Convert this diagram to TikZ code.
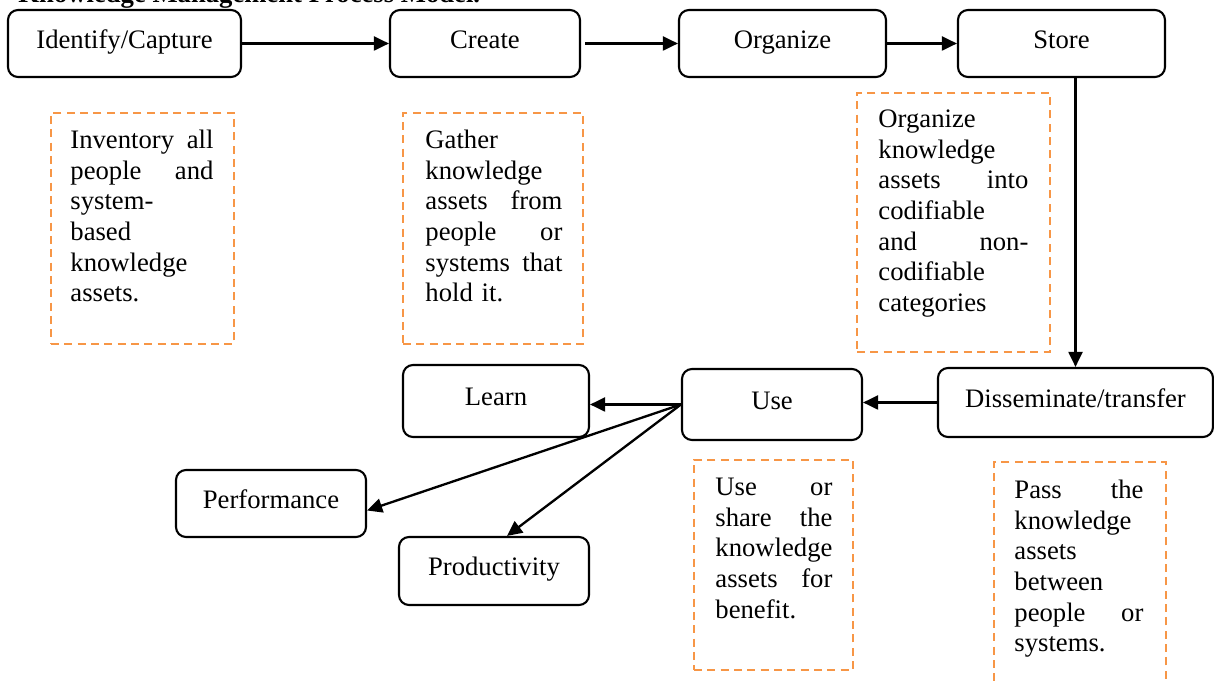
\documentclass[tikz,border=0pt]{standalone}
\usepackage{fontspec}
\setmainfont{Liberation Serif}
\usetikzlibrary{arrows.meta,calc}
\definecolor{dorange}{HTML}{F79646}
\newcommand\jline[2]{\hbox to\linewidth{#1\hfill#2}}
\newcommand\lline[1]{\hbox to\linewidth{#1\hfill}}
\begin{document}
\begin{tikzpicture}[x=0.45pt,y=-0.45pt,
  font=\fontsize{12}{13.8}\selectfont,
  pbox/.style 2 args={draw, line width=0.95pt, rounded corners=4.5pt, inner sep=0pt,
    text height=8pt, text depth=3.6pt,
    minimum width={#1*0.45pt}, minimum height={#2*0.45pt}},
  dbox/.style 2 args={draw=dorange, line width=1pt, dash pattern=on 3.6pt off 2.4pt,
    inner sep=0pt, minimum width={#1*0.45pt}, minimum height={#2*0.45pt}},
  txt/.style={anchor=north west, inner sep=0pt, text width={#1*0.45pt}},
  arr/.style={-{Triangle[length=6.8pt,width=6.3pt]}, line width=1.05pt}]
\useasboundingbox (0,0) rectangle (1214,681);
\clip (0,0) rectangle (1214,681);

\node[anchor=base west, inner sep=0pt, font=\fontsize{12}{13.8}\selectfont\bfseries] (title) at (18,3) {Knowledge Management Process Model.};

% process boxes
\node[pbox={233}{67}] (ident) at (124.5,43.5) {Identify/Capture};
\node[pbox={190}{67}] (create) at (485,43.5) {Create};
\node[pbox={207}{67}] (organize) at (782.5,43.5) {Organize};
\node[pbox={207}{67}] (store) at (1061.5,43.5) {Store};
\node[pbox={275}{69}] (dissem) at (1075.5,402.5) {Disseminate/transfer};
\node[pbox={180}{71}] (use) at (772,404.5) {Use};
\node[pbox={186}{72}] (learn) at (496,401) {Learn};
\node[pbox={190}{67}] (perf) at (271,503.5) {Performance};
\node[pbox={190}{68}] (prod) at (494,571) {Productivity};

% arrows
\draw[arr] (ident.east) -- (create.west);
\draw[arr, shorten <=1.8pt] (create.east) -- (organize.west);
\draw[arr] (organize.east) -- (store.west);
\draw[arr] (dissem.north |- store.south) -- (dissem.north);
\draw[arr] (dissem.west) -- (dissem.west -| use.east);
\draw[arr] (use.west) -- (use.west -| learn.east);
\draw[arr] (use.west) -- ($(perf.east)+(0,7)$);
\draw[arr] (use.west) -- ($(prod.north)+(13,0)$);

% dashed description boxes
\node[dbox={183}{231}] (b1) at (142.5,228.5) {};
\node[dbox={180}{231}] (b2) at (493,228.5) {};
\node[dbox={193}{259}] (b3) at (953.5,222.5) {};
\node[dbox={159}{210}] (b4) at (773.5,565) {};
\node[dbox={172}{258}] (b5) at (1080,591) {};

\node[txt=143] (t1) at (70,126.5) {%
\jline{\strut Inventory}{all}
\jline{people}{and}
\lline{system-}
\lline{based}
\lline{knowledge}
\lline{assets.}};

\node[txt=137] (t2) at (425,126.5) {%
\lline{\strut Gather}
\lline{knowledge}
\jline{assets}{from}
\jline{people}{or}
\jline{systems}{that}
\lline{hold it.}};

\node[txt=150] (t3) at (878,105.5) {%
\lline{\strut Organize}
\lline{knowledge}
\jline{assets}{into}
\lline{codifiable}
\jline{and}{non-}
\lline{codifiable}
\lline{categories}};

\node[txt=117] (t4) at (715,473.5) {%
\jline{\strut Use}{or}
\jline{share}{the}
\lline{knowledge}
\jline{assets}{for}
\lline{benefit.}};

\node[txt=129] (t5) at (1014,476.5) {%
\jline{\strut Pass}{the}
\lline{knowledge}
\lline{assets}
\lline{between}
\jline{people}{or}
\lline{systems.}};
\end{tikzpicture}
\end{document}
